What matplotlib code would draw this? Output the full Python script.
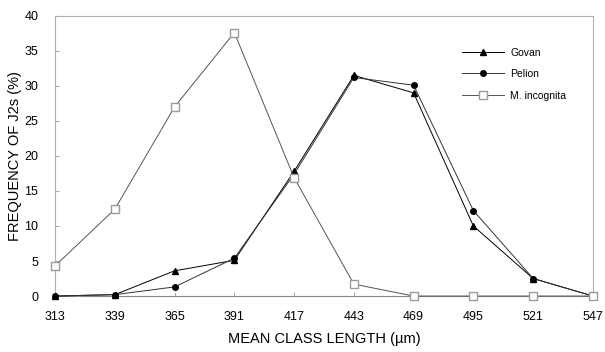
import matplotlib.pyplot as plt

plt.rcParams['font.family'] = ['Liberation Sans', 'DejaVu Sans']

# mean class length (um)
lengths = [313, 339, 365, 391, 417, 443, 469, 495, 521, 547]
govan = [0, 0.2, 3.6, 5.1, 17.8, 31.5, 29.0, 10.0, 2.5, 0]
pelion = [0, 0.2, 1.3, 5.4, 17.4, 31.2, 30.1, 12.2, 2.5, 0]
incognita = [4.3, 12.4, 27.0, 37.6, 16.9, 1.7, 0, 0, 0, 0]

fig = plt.figure(figsize=(6.05, 3.52), dpi=100)
ax = fig.add_axes([0.091, 0.159, 0.889, 0.796])

ax.plot(lengths, govan, color='black', lw=0.7, marker='^', ms=4,
        mfc='black', mec='black', label='Govan', zorder=3, clip_on=False)
ax.plot(lengths, pelion, color='#333333', lw=0.7, marker='o', ms=4,
        mfc='black', mec='black', label='Pelion', zorder=3, clip_on=False)
ax.plot(lengths, incognita, color='#555555', lw=0.7, marker='s', ms=6,
        mfc='white', mec='#9a9a9a', mew=1.0, label='M. incognita', zorder=4,
        clip_on=False)

ax.set_xlim(313, 547)
ax.set_ylim(0, 40)
ax.set_xticks(lengths)
ax.set_yticks(range(0, 41, 5))
ax.tick_params(axis='both', labelsize=9, length=3, color='#aaaaaa',
               direction='in')
ax.tick_params(axis='x', pad=11)
ax.tick_params(axis='y', pad=12)
for s in ax.spines.values():
    s.set_color('#b0b0b0')
    s.set_linewidth(0.8)
ax.spines['bottom'].set_color('#888888')

ax.set_xlabel('MEAN CLASS LENGTH (µm)', fontsize=10.5, labelpad=6)
ax.set_ylabel('FREQUENCY OF J2s (%)', fontsize=10.5, labelpad=2)

leg = ax.legend(loc='upper left', bbox_to_anchor=(0.74, 0.92), frameon=False,
                fontsize=7.5, handlelength=4.0, handletextpad=0.6,
                labelspacing=1.1)

fig.savefig('out.png', dpi=100)
